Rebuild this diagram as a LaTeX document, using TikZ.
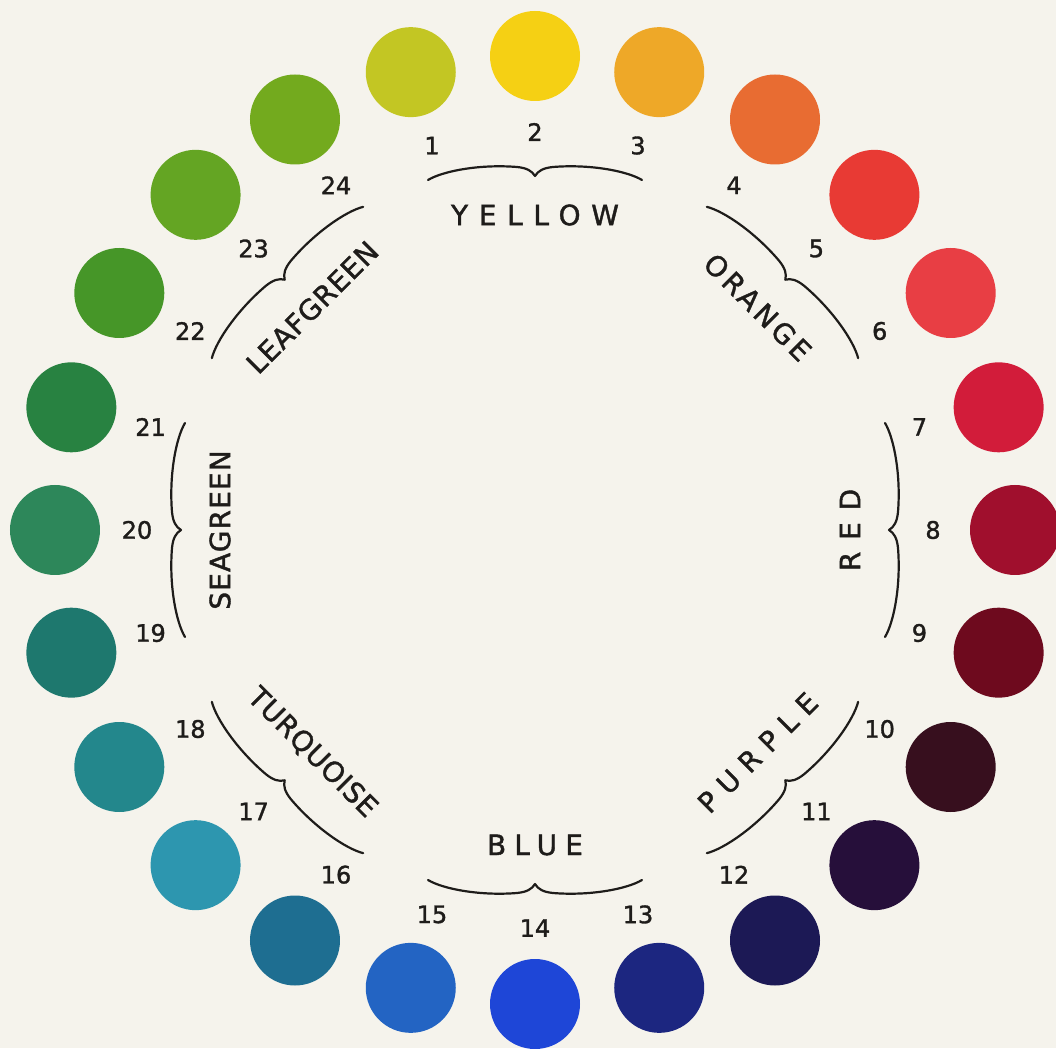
\documentclass[tikz,border=0pt]{standalone}
\usepackage{fontspec}
\setmainfont{DejaVu Sans}
\newfontfamily\handfont[FakeBold=1.4]{DejaVu Sans}
\definecolor{paper}{RGB}{245,243,236}
\definecolor{ink}{RGB}{30,28,26}
\definecolor{dot1}{RGB}{195,198,35}
\definecolor{dot2}{RGB}{245,208,20}
\definecolor{dot3}{RGB}{238,168,40}
\definecolor{dot4}{RGB}{232,108,50}
\definecolor{dot5}{RGB}{232,58,52}
\definecolor{dot6}{RGB}{232,62,68}
\definecolor{dot7}{RGB}{210,28,58}
\definecolor{dot8}{RGB}{160,15,45}
\definecolor{dot9}{RGB}{110,10,30}
\definecolor{dot10}{RGB}{55,15,30}
\definecolor{dot11}{RGB}{38,15,58}
\definecolor{dot12}{RGB}{28,25,85}
\definecolor{dot13}{RGB}{28,38,128}
\definecolor{dot14}{RGB}{30,70,215}
\definecolor{dot15}{RGB}{35,100,195}
\definecolor{dot16}{RGB}{30,110,145}
\definecolor{dot17}{RGB}{45,150,175}
\definecolor{dot18}{RGB}{35,135,140}
\definecolor{dot19}{RGB}{30,120,110}
\definecolor{dot20}{RGB}{45,135,90}
\definecolor{dot21}{RGB}{40,130,65}
\definecolor{dot22}{RGB}{70,150,40}
\definecolor{dot23}{RGB}{100,165,35}
\definecolor{dot24}{RGB}{115,170,30}

\begin{document}
\begin{tikzpicture}[x=1pt,y=1pt,dot/.style={circle,minimum size=90pt,inner sep=0pt},num/.style={font=\handfont\fontsize{24}{24}\selectfont,text=ink,inner sep=0pt},group/.style={font=\handfont\fontsize{28}{28}\selectfont,text=ink,inner sep=0pt},brace/.style={draw=ink,line width=2.2pt,line cap=round,line join=round}]
\fill[paper] (-535,-518) rectangle (521,530);
\useasboundingbox (-535,-518) rectangle (521,530);
% colour dots and their numbers
\foreach \k in {1,...,24}{
  \pgfmathsetmacro{\ang}{120-15*\k}
  \node[dot,fill=dot\k] (c\k) at ({480*cos(\ang)},{474*sin(\ang)}) {};
  \node[num] (n\k) at (\ang:398) {\k};
}
% braces over each group of three
\foreach \ang in {90,45,...,-225}{
  \begin{scope}[shift={(\ang:350)},rotate={\ang-90}]
    \draw[brace] (-107,0) .. controls (-92,9) and (-55,16) .. (-18,13) .. controls (-8,12) and (-3,9) .. (0,4) .. controls (3,9) and (8,12) .. (18,13) .. controls (55,16) and (92,9) .. (107,0);
  \end{scope}
}
% group names
\foreach \id/\txt/\ang/\rot/\sp in {yellow/YELLOW/90/0/38, orange/ORANGE/45/-45/13, red/RED/0/90/42, purple/PURPLE/-45/45/35, blue/BLUE/-90/0/29, turquoise/TURQUOISE/-135/-45/2, seagreen/SEAGREEN/180/90/4, leafgreen/LEAFGREEN/135/45/3}
  \node[group,rotate=\rot] (\id) at (\ang:315) {\addfontfeature{LetterSpace=\sp}\txt};
\end{tikzpicture}
\end{document}
